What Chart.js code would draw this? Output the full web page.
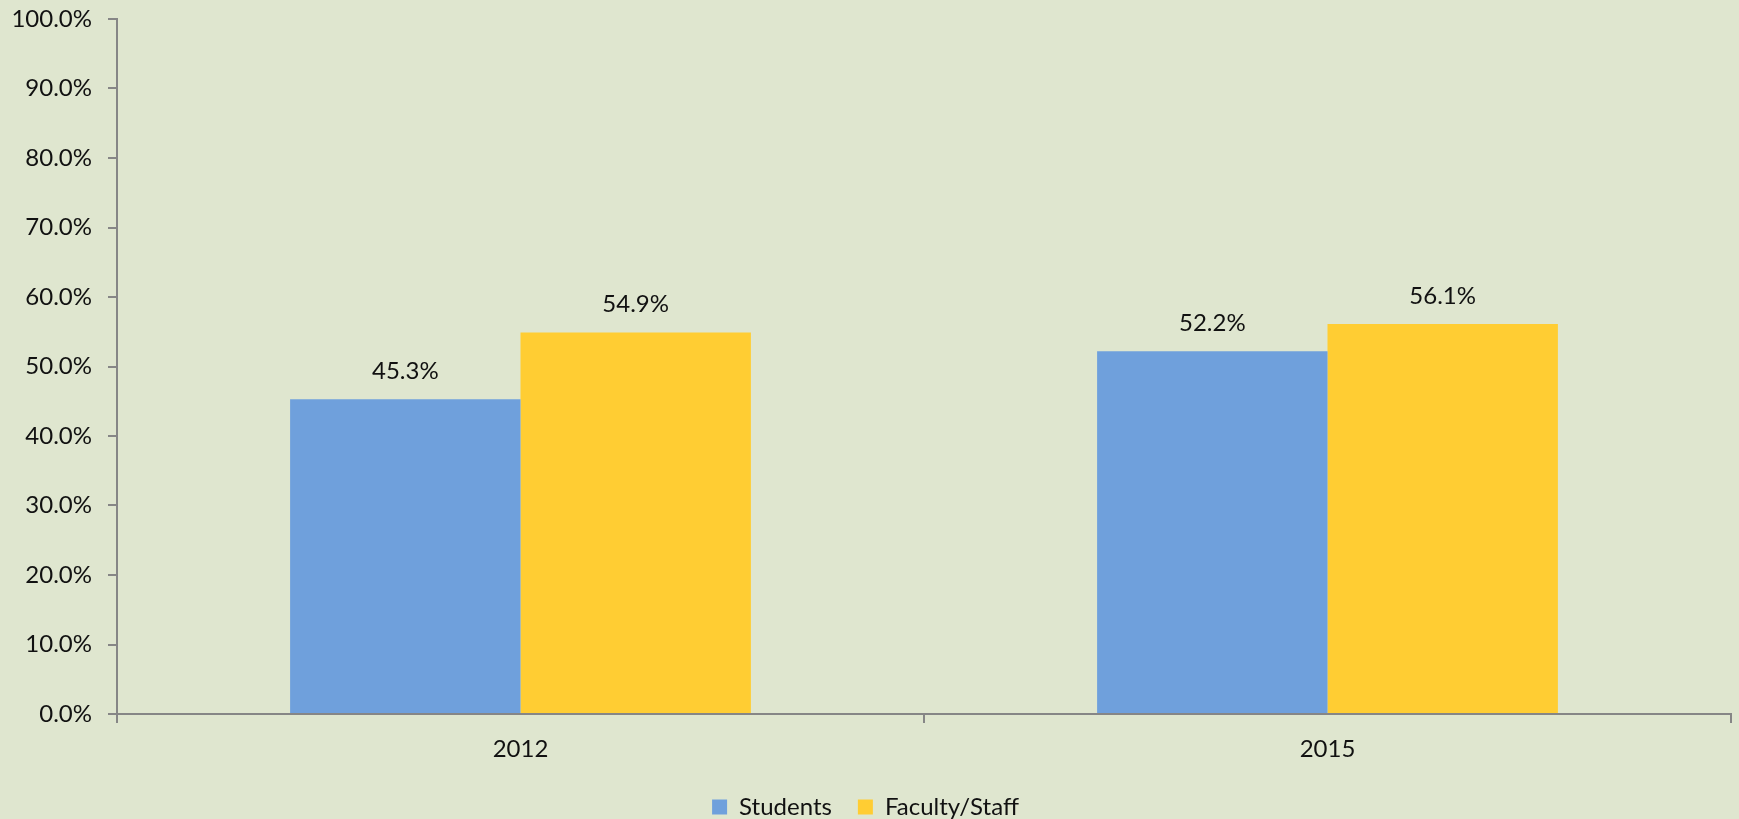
<!DOCTYPE html>
<html>
<head>
<meta charset="utf-8">
<script src="https://cdn.jsdelivr.net/npm/chart.js@4/dist/chart.umd.min.js"></script>
<style>
  html, body { margin: 0; padding: 0; background: #dfe6cf; }
  #wrap { width: 1739px; height: 819px; }
</style>
</head>
<body>
<div id="wrap"><canvas id="chart" width="1739" height="819"></canvas></div>
<script>
// Data
const years = ['2012', '2015'];
const students = [45.3, 52.2];
const facultyStaff = [54.9, 56.1];

const FONT = 'Lato, "Open Sans", sans-serif';
const axisGray = '#868686';

// draws the value above each bar (no datalabels plugin offline)
const valueLabels = {
    id: 'valueLabels',
    afterDatasetsDraw(chart) {
        const ctx = chart.ctx;
        ctx.save();
        ctx.font = '24px ' + FONT;
        ctx.fillStyle = '#111';
        ctx.textAlign = 'center';
        ctx.textBaseline = 'bottom';
        chart.data.datasets.forEach((ds, i) => {
            chart.getDatasetMeta(i).data.forEach((bar, j) => {
                ctx.fillText(ds.data[j].toFixed(1) + '%', bar.x, bar.y - 16);
            });
        });
        ctx.restore();
    }
};

const ctx = document.getElementById('chart').getContext('2d');
new Chart(ctx, {
    type: 'bar',
    data: {
        labels: years,
        datasets: [
            { label: 'Students', data: students, backgroundColor: '#6fa0dc' },
            { label: 'Faculty/Staff', data: facultyStaff, backgroundColor: '#ffcd33' }
        ]
    },
    options: {
        responsive: false,
        animation: false,
        layout: { padding: { top: 19, right: 8, left: 0, bottom: -10 } },
        datasets: { bar: { categoryPercentage: 0.571, barPercentage: 1.0 } },
        scales: {
            x: {
                grid: { drawOnChartArea: false, tickLength: 9, color: axisGray, lineWidth: 2, offset: true },
                border: { color: axisGray, width: 2 },
                ticks: { color: '#111', font: { family: FONT, size: 24 }, padding: 12 },
                afterFit(scale) { scale.height = 55; }
            },
            y: {
                min: 0,
                max: 100,
                grid: { drawOnChartArea: false, tickLength: 9, color: axisGray, lineWidth: 2 },
                border: { color: axisGray, width: 2 },
                ticks: {
                    stepSize: 10,
                    color: '#111',
                    font: { family: FONT, size: 24 },
                    padding: 16,
                    callback: v => v.toFixed(1) + '%'
                },
                afterFit(scale) {
                    scale.width = 117;
                    scale.paddingTop = 0;
                    scale.paddingBottom = 0;
                }
            }
        },
        plugins: {
            legend: {
                position: 'bottom',
                labels: {
                    color: '#111',
                    font: { family: FONT, size: 24 },
                    boxWidth: 15,
                    boxHeight: 15,
                    padding: 26
                }
            },
            tooltip: { enabled: false }
        }
    },
    plugins: [valueLabels]
});
</script>
</body>
</html>
